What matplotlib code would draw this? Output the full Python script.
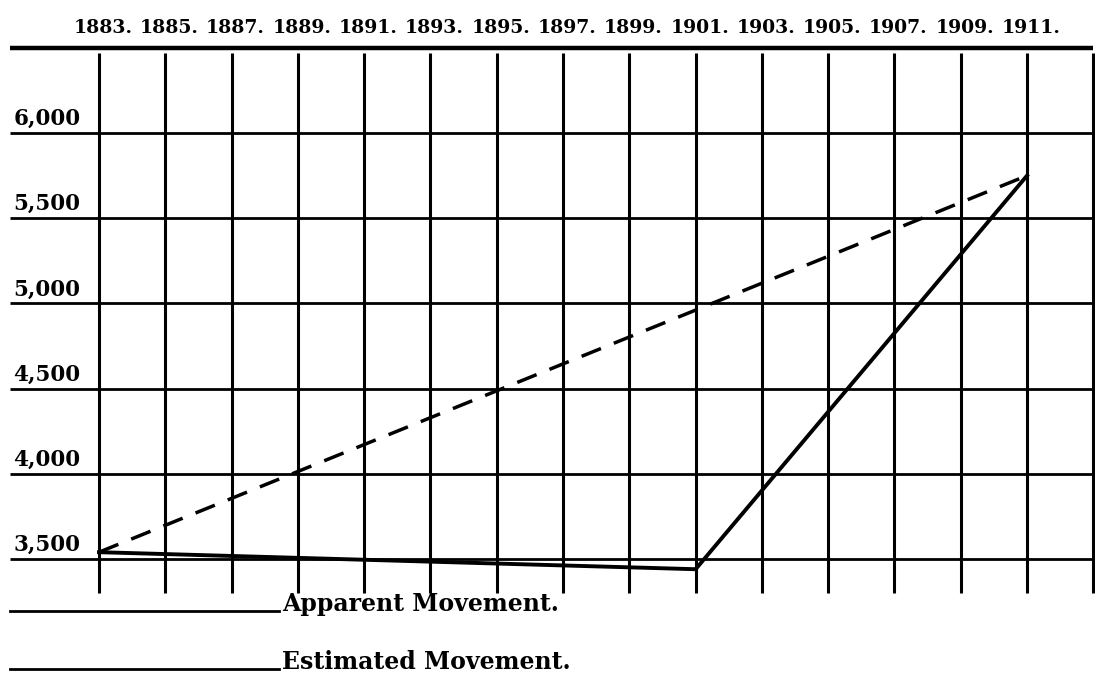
import matplotlib
matplotlib.use("Agg")
import matplotlib.pyplot as plt
from matplotlib.lines import Line2D

# Werte
jahre_grid = [1883, 1885, 1887, 1889, 1891, 1893, 1895, 1897, 1899,
              1901, 1903, 1905, 1907, 1909, 1911]
y_stufen = [6000, 5500, 5000, 4500, 4000, 3500]

jahre_apparent = [1883, 1901, 1911]
werte_apparent = [3540, 3440, 5750]

jahre_estimated = [1883, 1911]
werte_estimated = [3540, 5750]

legende = ["Apparent Movement.", "Estimated Movement."]

plt.rcParams['font.family'] = ['DejaVu Serif']
plt.rcParams['font.weight'] = 'bold'

fig = plt.figure(figsize=(10.95, 6.78), dpi=100)
ax = fig.add_axes([0, 0, 1, 1])
ax.set_xlim(1880.013, 1913.05)
ax.set_ylim(2801.6, 6780.5)
ax.axis('off')

x_links = 1880.3
x_rechts = 1913.0

# Gitter
ax.hlines(6500, x_links, x_rechts, color='black', lw=3.2)
ax.hlines(y_stufen, x_links, x_rechts, color='black', lw=2.0)
ax.vlines(jahre_grid + [1913], 3300, 6470, color='black', lw=2.2)

# Beschriftungen
for jahr in jahre_grid:
    ax.annotate(f"{jahr}.", xy=(jahr, 6500), xytext=(4, 15),
                textcoords='offset pixels', ha='center', va='baseline',
                fontsize=13.5, fontweight='bold')

for wert in y_stufen:
    ax.annotate(f"{wert:,}", xy=(x_links, wert), xytext=(4, 8),
                textcoords='offset pixels', ha='left', va='baseline',
                fontsize=15.5, fontweight='bold')

# Kurven
ax.plot(jahre_apparent, werte_apparent, color='black', lw=2.8,
        solid_joinstyle='miter')
ax.plot(jahre_estimated, werte_estimated, color='black', lw=2.5,
        dashes=(6, 4))

# Legende
for i, text in enumerate(legende):
    y = 1 - (611 + 58 * i) / 678
    fig.add_artist(Line2D([10 / 1095, 279 / 1095], [y, y],
                          transform=fig.transFigure, color='black', lw=2.0))
    fig.text(282 / 1095, y, text, ha='left', va='baseline',
             fontsize=17, fontweight='bold')

fig.savefig('out.png', dpi=100, facecolor='white')
plt.close(fig)
